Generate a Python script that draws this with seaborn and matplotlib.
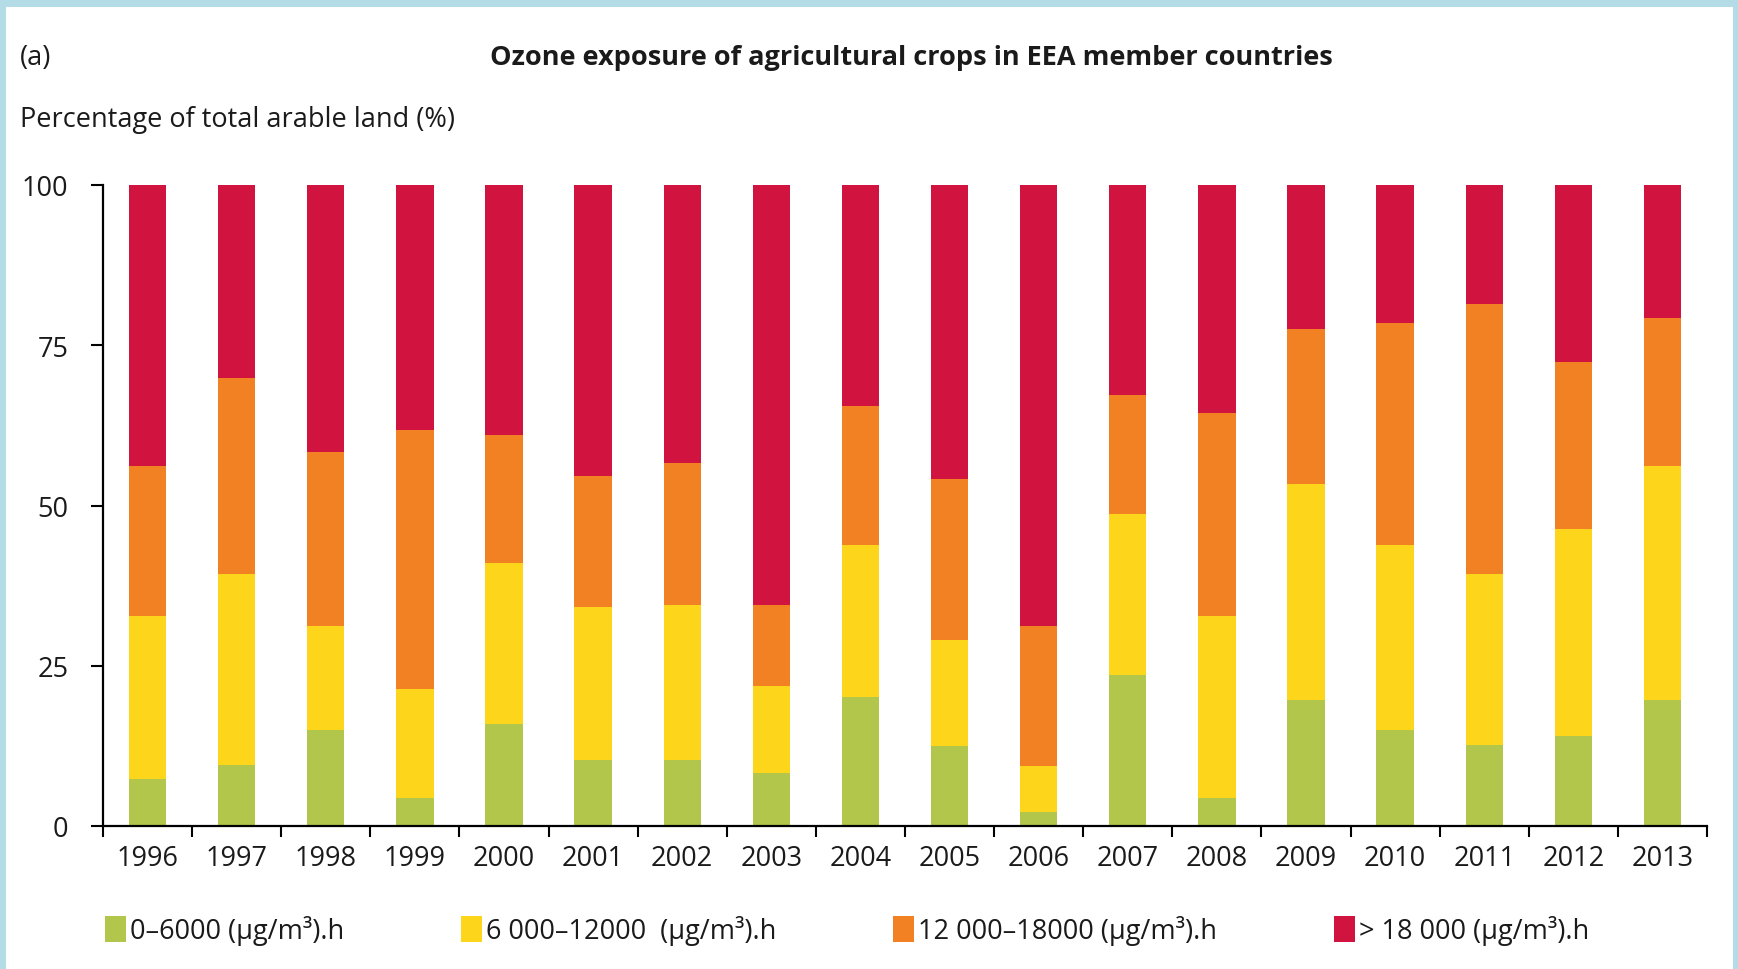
import numpy as np
import matplotlib
matplotlib.use("Agg")
import matplotlib.pyplot as plt
from matplotlib.patches import Rectangle, Patch
import seaborn as sns

# Share of arable land (%) in each AOT40 exposure band, per year
years = [str(y) for y in range(1996, 2014)]
band_0_6000 = [7.3, 9.5, 15.0, 4.4, 15.9, 10.3, 10.3, 8.2, 20.1,
               12.5, 2.2, 23.5, 4.4, 19.7, 15.0, 12.7, 14.1, 19.7]
band_6000_12000 = [25.5, 29.8, 16.2, 17.0, 25.1, 23.8, 24.2, 13.6, 23.8,
                   16.5, 7.2, 25.1, 28.4, 33.6, 28.9, 26.6, 32.3, 36.5]
band_12000_18000 = [23.4, 30.6, 27.2, 40.4, 20.0, 20.5, 22.1, 12.7, 21.7,
                    25.1, 21.8, 18.7, 31.6, 24.2, 34.5, 42.1, 26.0, 23.1]
band_over_18000 = [43.8, 30.1, 41.6, 38.2, 39.0, 45.4, 43.4, 65.5, 34.4,
                   45.9, 68.8, 32.7, 35.6, 22.5, 21.6, 18.6, 27.6, 20.7]

band_labels = ["0–6000 (µg/m³).h", "6 000–12000  (µg/m³).h",
               "12 000–18000 (µg/m³).h", "> 18 000 (µg/m³).h"]
band_colors = ["#b1c64b", "#fdd51a", "#f28124", "#d0143f"]
y_ticks = [0, 25, 50, 75, 100]

sns.set_theme(style="white")
plt.rcParams["font.family"] = ["Open Sans", "DejaVu Sans"]
plt.rcParams["text.color"] = "#1a1a1a"

W, H = 1738, 970
fig = plt.figure(figsize=(W / 100, H / 100), dpi=100)
fig.patch.set_facecolor("#b3dce6")
fig.patches.append(Rectangle((6 / W, 0), (1733 - 6) / W, 962 / H,
                             transform=fig.transFigure, facecolor="white",
                             edgecolor="none", zorder=-10))

ax = fig.add_axes([103 / W, 143 / H, (1707 - 103) / W, (827 - 186) / H])
ax.set_facecolor("white")

# Stacked bars: draw cumulative totals from the top band down
bands = np.array([band_0_6000, band_6000_12000, band_12000_18000, band_over_18000])
levels = np.cumsum(bands, axis=0)
for i in reversed(range(len(bands))):
    sns.barplot(x=years, y=levels[i], order=years, color=band_colors[i],
                saturation=1, width=0.42, linewidth=0, errorbar=None, ax=ax)

ax.set_xlim(-0.5, len(years) - 0.5)
ax.set_ylim(0, 100)
ax.set_xlabel("")
ax.set_ylabel("")

ax.set_xticks(np.arange(-0.5, len(years), 1))
ax.set_xticklabels([])
ax.set_xticks(np.arange(len(years)), minor=True)
ax.set_xticklabels(years, minor=True)
ax.tick_params(axis="x", which="major", direction="out", length=8, width=1.5,
               color="black", bottom=True)
ax.tick_params(axis="x", which="minor", length=0, pad=13, labelsize=19.5,
               labelcolor="#1a1a1a", bottom=True)

ax.set_yticks(y_ticks)
ax.set_yticklabels([str(t) for t in y_ticks])
ax.tick_params(axis="y", direction="out", length=9, width=1.5, color="black",
               pad=16, labelsize=19.5, labelcolor="#1a1a1a", left=True)

for side in ("top", "right"):
    ax.spines[side].set_visible(False)
for side in ("left", "bottom"):
    ax.spines[side].set_color("black")
    ax.spines[side].set_linewidth(1.6)

fig.text(20 / W, 1 - 58 / H, "(a)", ha="left", va="center", fontsize=19.5)
fig.text(911 / W, 1 - 58 / H,
         "Ozone exposure of agricultural crops in EEA member countries",
         ha="center", va="center", fontsize=19.5, fontweight="bold")
fig.text(20 / W, 1 - 120 / H, "Percentage of total arable land (%)",
         ha="left", va="center", fontsize=19.5)

handles = [Patch(facecolor=c, edgecolor="none", label=l)
           for c, l in zip(band_colors, band_labels)]
fig.legend(handles=handles, loc="center left",
           bbox_to_anchor=(105 / W, 1 - 931 / H), ncol=4, frameon=False,
           fontsize=19.5, handlelength=0.78, handleheight=1.1,
           handletextpad=0.15, columnspacing=4.3, borderpad=0,
           borderaxespad=0)

fig.savefig("out.png", dpi=100)
